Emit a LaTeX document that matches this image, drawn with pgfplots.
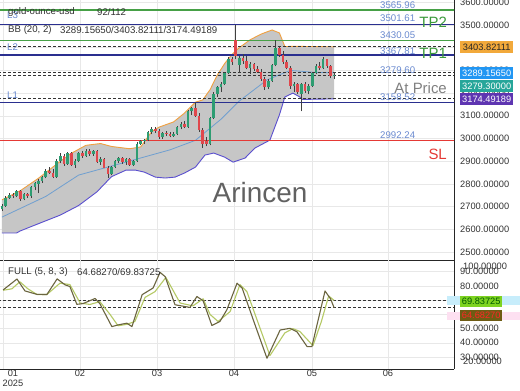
\documentclass[border=0pt]{standalone}
\usepackage{pgfplots}
\pgfplotsset{compat=1.18}
\usepackage{pgfplotstable}
\usepackage{fontspec}
\setmainfont{Liberation Sans}
\definecolor{candG}{HTML}{2E9D72}
\definecolor{candR}{HTML}{E0474C}
\definecolor{bbUp}{HTML}{F0A040}
\definecolor{bbMid}{HTML}{6F9FD0}
\definecolor{bbLo}{HTML}{5A4FCF}
\definecolor{bandFill}{HTML}{C6C6C6}
\definecolor{lvGreen}{HTML}{46A046}
\definecolor{lvNavy}{HTML}{2A2F8F}
\definecolor{lvRed}{HTML}{E53935}
\definecolor{lvTxt}{HTML}{6A8AD0}
\definecolor{tpGreen}{HTML}{3B9A3B}
\definecolor{boxOr}{HTML}{F2A93B}
\definecolor{boxBlue}{HTML}{2196F3}
\definecolor{boxTeal}{HTML}{26A69A}
\definecolor{boxPur}{HTML}{5E35B1}
\definecolor{kCol}{HTML}{6B6540}
\definecolor{dCol}{HTML}{B5C965}
\definecolor{boxLime}{HTML}{7ED321}
\definecolor{boxOlive}{HTML}{6E5C14}
\newcommand{\tl}{\fontsize{9.3}{9.6}\selectfont}
\newcommand{\hf}{\fontsize{9.7}{11}\selectfont}
\newcommand{\bigf}{\fontsize{15}{16}\selectfont}

\pgfplotstableread{
i o h l c
0 2688 2712 2680 2705
1 2705 2745 2700 2738
2 2738 2758 2735 2750
4 2745 2772 2742 2768
6 2732 2760 2728 2755
8 2745 2792 2740 2786
9 2786 2810 2772 2804
10 2800 2820 2760 2815
11 2815 2835 2805 2830
12 2830 2865 2825 2858
15 2832 2908 2828 2902
16 2902 2935 2890 2925
18 2888 2940 2885 2935
20 2885 2908 2872 2900
21 2900 2940 2895 2935
23 2925 2952 2920 2945
25 2932 2950 2925 2945
27 2898 2920 2885 2910
30 2842 2880 2838 2875
31 2875 2905 2870 2900
32 2900 2918 2890 2912
34 2895 2915 2885 2908
36 2885 2905 2878 2900
37 2900 2985 2898 2978
38 2978 2995 2970 2988
39 2988 2998 2978 2992
40 2992 3035 2988 3030
41 3030 3050 3018 3042
44 3008 3030 3000 3025
47 3012 3028 3008 3022
48 3022 3055 3015 3050
49 3050 3072 3040 3065
51 3052 3125 3048 3120
52 3120 3140 3105 3135
57 2975 3095 2970 3090
58 3090 3205 3085 3198
59 3198 3232 3185 3225
60 3225 3250 3205 3240
61 3240 3292 3235 3288
62 3288 3358 3282 3352
65 3325 3365 3290 3355
68 3312 3335 3285 3328
73 3225 3262 3218 3255
74 3255 3330 3250 3322
75 3322 3434 3318 3398
80 3230 3250 3205 3240
82 3195 3245 3120 3238
84 3210 3240 3195 3232
85 3232 3295 3228 3290
86 3290 3328 3282 3320
88 3310 3358 3305 3350
91 3275 3292 3262 3279.3
}\upc

\pgfplotstableread{
i o h l c
3 2750 2760 2738 2745
5 2768 2772 2725 2732
7 2755 2760 2740 2745
13 2858 2875 2845 2850
14 2850 2866 2825 2832
17 2925 2930 2880 2888
19 2935 2940 2878 2885
22 2935 2945 2915 2925
24 2945 2955 2925 2932
26 2945 2948 2892 2898
28 2910 2915 2868 2872
29 2872 2878 2828 2842
33 2912 2920 2888 2895
35 2908 2912 2880 2885
42 3042 3052 3025 3032
43 3032 3040 3000 3008
45 3025 3035 3010 3020
46 3020 3030 3005 3012
50 3065 3075 3045 3052
53 3135 3162 3095 3100
54 3100 3112 3030 3038
55 3038 3045 2960 2978
56 2990 3005 2965 2975
63 3352 3360 3325 3338
64 3432 3500 3350 3362
66 3355 3372 3330 3340
67 3340 3362 3305 3312
69 3328 3332 3298 3305
70 3305 3318 3288 3295
71 3295 3305 3255 3262
72 3262 3270 3215 3225
76 3398 3408 3360 3368
77 3368 3385 3330 3338
78 3338 3345 3305 3312
79 3312 3318 3220 3230
81 3240 3245 3195 3205
83 3238 3248 3200 3210
87 3320 3335 3300 3310
89 3350 3352 3312 3320
90 3320 3325 3265 3275
}\downc

\pgfplotstableread{
i v
0 2730
5 2770
10 2825
16 2900
19 2935
23 2970
27 2978
30 2965
35 2955
38 2963
41 3030
43 3050
47 3073
50 3112
53 3160
55 3170
57 3215
59 3280
61 3330
63 3370
65 3400
68 3435
71 3460
74 3478
76 3465
77.5 3405
80 3406
85 3405
91 3403.82
}\bbup

\pgfplotstableread{
i v
0 2584
4 2584
5 2593
10 2625
16 2663
21 2705
26 2765
30 2832
34 2861
36.5 2861
39 2852
42 2830
44.7 2826
47.4 2830
50 2848
53 2874
55.6 2927
58 2936
61 2918
63.3 2896
66.6 2914
69.3 2958
70.7 2970
73.4 2993
76 3104
77.5 3183
79.7 3200
81.6 3183
82.2 3172
91 3174.49
}\bblo

% band area: upper band forward, lower band backward
\pgfplotstableread{
i v
0 2730
5 2770
10 2825
16 2900
19 2935
23 2970
27 2978
30 2965
35 2955
38 2963
41 3030
43 3050
47 3073
50 3112
53 3160
55 3170
57 3215
59 3280
61 3330
63 3370
65 3400
68 3435
71 3460
74 3478
76 3465
77.5 3405
80 3406
85 3405
91 3403.82
91 3174.49
82.2 3172
81.6 3183
79.7 3200
77.5 3183
76 3104
73.4 2993
70.7 2970
69.3 2958
66.6 2914
63.3 2896
61 2918
58 2936
55.6 2927
53 2874
50 2848
47.4 2830
44.7 2826
42 2830
39 2852
36.5 2861
34 2861
30 2832
26 2765
21 2705
16 2663
10 2625
5 2593
4 2584
0 2584
}\bbarea

\pgfplotstableread{
i v
0 2654
12 2745
21 2839
33 2892
46 2950
53 2992
60 3085
65 3165
72.6 3258
79 3300
85 3292
91 3289.16
}\bbmid

\pgfplotstableread{
i v
0.3 77.2
4.1 84.9
6.3 76.5
7.7 75.5
9.6 74.1
12.3 74
15.1 85
17.3 80.8
18.6 79.6
20.5 67.1
22.2 67.6
25.5 71.2
26.8 67.6
30.1 51.4
31.8 52.6
34.2 53.8
35.6 51.4
38.4 73.9
41.4 78.6
43.3 89.6
44.7 86.6
47.4 66.8
51.5 64.9
53.4 72.6
55.1 69.6
57.5 52.2
59.7 55
61.6 63.2
64.4 82
65.8 78.5
69 55
72.6 29.1
76.2 49
78.9 50.2
80.8 47.8
83.6 37.3
84.9 37.3
88.5 76.5
90 71
91 64.68
}\stk

\pgfplotstableread{
i v
0.3 77
2.7 78
4.9 83
7.1 78
9.6 74
12.3 74
15.9 82
18.6 81
21.4 68
24.1 67
26.8 69
29.6 60
31.8 52
34.2 53
36.4 55
39.2 72
41.9 76
44.9 86
48.8 68
52.3 66
55.1 71
57 60
59.2 55
62.5 62
65.2 81
67.1 76
73.4 31
77.5 47
79.7 50
81.6 48
85.2 38
87.5 55
89.5 73
91 69.84
}\std

\begin{document}
\begin{tikzpicture}[x=1bp,y=1bp]
\fill[white] (0,0) rectangle (520,390);

% ---------------- price panel ----------------
\begin{axis}[
  at={(0bp,130bp)}, anchor=south west,
  scale only axis, width=454bp, height=260bp,
  xmin=-0.548, xmax=123.84, ymin=2465, ymax=3610,
  axis x line*=bottom, axis y line*=right,
  axis line style={draw=black!85, line width=0.8bp, -},
  xtick={0.27,21.37,42.47,63.56,84.93,105.75}, xticklabels={},
  ytick={2500,2600,...,3600},
  yticklabels={2500.00000,2600.00000,2700.00000,2800.00000,2900.00000,3000.00000,3100.00000,3200.00000,3300.00000,3400.00000,3500.00000,3600.00000},
  /pgf/number format/assume math mode=true,
  major tick length=0pt,
  grid=major, major grid style={draw=black!9, line width=0.6bp},
  yticklabel style={anchor=west, xshift=6bp, inner sep=0pt, font=\tl, text=black!80},
]
\addplot[fill=bandFill, draw=none] table[x=i,y=v] {\bbarea};
\addplot[bbUp, line width=0.9bp] table[x=i,y=v] {\bbup};
\addplot[bbLo, line width=0.9bp] table[x=i,y=v] {\bblo};
\addplot[bbMid, line width=0.8bp] table[x=i,y=v] {\bbmid};
% level lines
\addplot[lvGreen, line width=1.1bp] coordinates {(-1,3565.96) (125,3565.96)};
\addplot[lvNavy, line width=1.1bp] coordinates {(-1,3501.61) (125,3501.61)};
\addplot[lvGreen, line width=1.1bp] coordinates {(-1,3430.05) (125,3430.05)};
\addplot[lvNavy, line width=1.1bp] coordinates {(-1,3367.81) (125,3367.81)};
\addplot[lvNavy, line width=1.1bp] coordinates {(-1,3158.52) (125,3158.52)};
\addplot[lvRed, line width=1.1bp] coordinates {(-1,2992.24) (125,2992.24)};
\addplot[black!80, line width=1bp, dash pattern=on 3bp off 2bp] coordinates {(-1,3403.82) (125,3403.82)};
\addplot[black!80, line width=1bp, dash pattern=on 3bp off 2bp] coordinates {(-1,3289.16) (125,3289.16)};
\addplot[black!80, line width=1bp, dash pattern=on 3bp off 2bp] coordinates {(-1,3279.30) (125,3279.30)};
\addplot[black!80, line width=1bp, dash pattern=on 3bp off 2bp] coordinates {(-1,3174.49) (125,3174.49)};
% candles: wicks
\addplot[black!75, line width=0.6bp, quiver={u=0, v=\thisrow{h}-\thisrow{l}}] table[x=i, y=l] {\upc};
\addplot[black!75, line width=0.6bp, quiver={u=0, v=\thisrow{h}-\thisrow{l}}] table[x=i, y=l] {\downc};
% bodies
\addplot[candG, line width=2.6bp, line cap=butt, quiver={u=0, v=\thisrow{c}-\thisrow{o}}] table[x=i, y=o] {\upc};
\addplot[candR, line width=2.6bp, line cap=butt, quiver={u=0, v=\thisrow{c}-\thisrow{o}}] table[x=i, y=o] {\downc};
\end{axis}

% ---------------- stochastic panel ----------------
\begin{axis}[
  at={(0bp,21bp)}, anchor=south west,
  scale only axis, width=454bp, height=109bp,
  xmin=-0.548, xmax=123.84, ymin=21.55, ymax=98.3,
  axis x line*=bottom, axis y line*=right,
  axis line style={draw=black!85, line width=0.8bp, -},
  xtick={0.27,21.37,42.47,63.56,84.93,105.75}, xticklabels={},
  extra x ticks={3.01,21.37,42.47,63.56,84.93,105.75},
  extra x tick labels={{01\\2025},02,03,04,05,06},
  extra x tick style={grid=none, xticklabel style={align=center}},
  xticklabel style={font=\tl, text=black!80, inner sep=1bp},
  ytick={30,40,...,90},
  yticklabels={30.00000,40.00000,50.00000,60.00000,70.00000,80.00000,90.00000},
  /pgf/number format/assume math mode=true,
  major tick length=0pt,
  grid=major, major grid style={draw=black!9, line width=0.6bp},
  yticklabel style={anchor=west, xshift=6bp, inner sep=0pt, font=\tl, text=black!80},
]
\addplot[black!80, line width=1bp, dash pattern=on 3bp off 2bp] coordinates {(-1,69.84) (125,69.84)};
\addplot[black!80, line width=1bp, dash pattern=on 3bp off 2bp] coordinates {(-1,64.68) (125,64.68)};
\addplot[dCol, line width=1.1bp, line join=round] table[x=i,y=v] {\std};
\addplot[kCol, line width=1.1bp, line join=round] table[x=i,y=v] {\stk};
\end{axis}

% ---------------- annotations ----------------
\node[anchor=west, text=lvTxt, font=\hf, inner sep=0pt] at (7,375) {L3};
\node[anchor=west, text=lvTxt, font=\hf, inner sep=0pt] at (7,343) {L2};
\node[anchor=west, text=lvTxt, font=\hf, inner sep=0pt] at (7,295) {L1};
\node[anchor=west, text=black!80, font=\hf, inner sep=0pt] at (8,378) {gold-ounce-usd};
\node[anchor=west, text=black!80, font=\hf, inner sep=0pt] at (97,378) {92/112};
\node[anchor=west, text=black!80, font=\hf, inner sep=0pt] at (8,360) {BB (20, 2)};
\node[anchor=west, text=black!80, font=\hf, inner sep=0pt] at (60,360) {3289.15650/3403.82111/3174.49189};

\foreach \yy/\tt in {385/3565.96, 372/3501.61, 355/3430.05, 339/3367.81, 320/3279.60, 293/3158.52, 255/2992.24}
  \node[anchor=west, text=lvTxt, font=\hf, inner sep=0pt] at (380,\yy) {\tt};

\node[anchor=east, text=tpGreen, font=\bigf, inner sep=0pt] at (447,368) {TP2};
\node[anchor=east, text=tpGreen, font=\bigf, inner sep=0pt] at (447,337) {TP1};
\node[anchor=east, text=black!50, font=\bigf, inner sep=0pt] at (447,302) {At Price};
\node[anchor=east, text=lvRed, font=\bigf, inner sep=0pt] at (447,236) {SL};

\node[text=black!62, font=\fontsize{28}{30}\selectfont, inner sep=0pt] at (260,197) {Arincen};

% right value boxes
\node[anchor=west, fill=boxOr, text=black!85, font=\tl, inner sep=0pt, minimum width=53bp, minimum height=12.5bp] at (460,343) {3403.82111};
\node[anchor=west, fill=boxBlue, text=white, font=\tl, inner sep=0pt, minimum width=53bp, minimum height=12.5bp] at (460,317) {3289.15650};
\node[anchor=west, fill=boxTeal, text=white, font=\tl, inner sep=0pt, minimum width=53bp, minimum height=12.5bp] at (460,304) {3279.30000};
\node[anchor=west, fill=boxPur, text=white, font=\tl, inner sep=0pt, minimum width=53bp, minimum height=12.5bp] at (460,291) {3174.49189};

% stochastic header and boxes
\node[anchor=west, text=black!80, font=\hf, inner sep=0pt] at (8,118) {FULL (5, 8, 3)};
\node[anchor=west, text=black!80, font=\hf, inner sep=0pt] at (77,118) {64.68270/69.83725};
\fill[cyan!22] (447,85) rectangle (520,94);
\fill[magenta!12] (447,70) rectangle (520,78);
\node[anchor=west, fill=boxLime, text=green!35!black, font=\tl, inner sep=0pt, minimum width=42bp, minimum height=11bp] at (460,89) {69.83725};
\node[anchor=west, fill=boxOlive, text=red!85, font=\tl, inner sep=0pt, minimum width=42bp, minimum height=11bp] at (460,75) {64.68270};
\node[anchor=west, text=black!80, font=\tl, inner sep=0pt] at (463,124) {100.00000};
\node[anchor=west, text=black!80, font=\tl, inner sep=0pt] at (463,29) {20.00000};

\pgfresetboundingbox
\path[use as bounding box] (0,0) rectangle (520,390);
\end{tikzpicture}
\end{document}
